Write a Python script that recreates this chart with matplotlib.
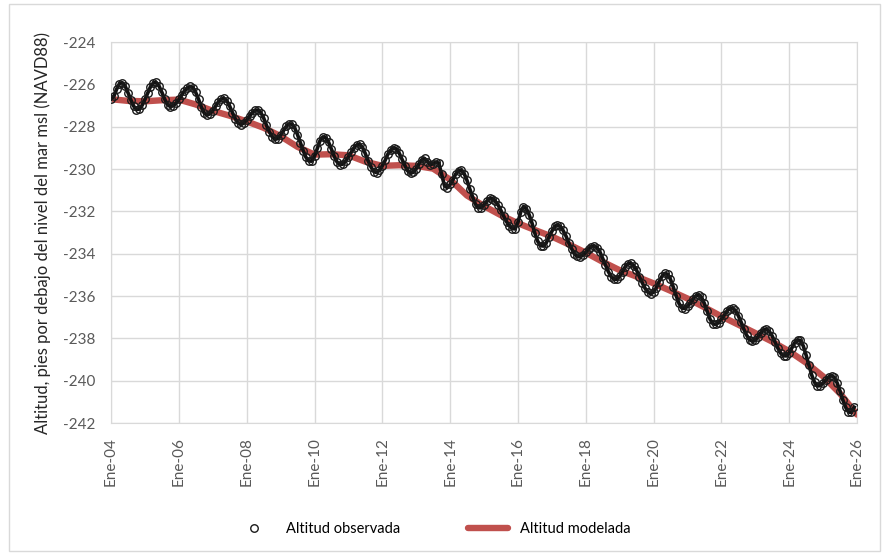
import matplotlib.pyplot as plt
import matplotlib.dates as mdates
from matplotlib.patches import Rectangle
import pandas as pd

obs_2004 = [-226.70, -226.56, -226.23, -225.96, -225.92, -226.08, -226.39, -226.73, -227.03, -227.19, -227.17, -226.99]
obs_2005 = [-226.71, -226.39, -226.11, -225.93, -225.91, -226.08, -226.37, -226.70, -226.96, -227.05, -227.01, -226.89]
obs_2006 = [-226.71, -226.50, -226.31, -226.18, -226.10, -226.15, -226.38, -226.71, -227.08, -227.36, -227.45, -227.39]
obs_2007 = [-227.24, -227.03, -226.83, -226.70, -226.66, -226.77, -227.02, -227.34, -227.63, -227.84, -227.90, -227.83]
obs_2008 = [-227.69, -227.51, -227.34, -227.22, -227.21, -227.33, -227.58, -227.93, -228.24, -228.47, -228.60, -228.56]
obs_2009 = [-228.40, -228.19, -227.99, -227.87, -227.87, -228.05, -228.37, -228.75, -229.13, -229.45, -229.62, -229.63]
obs_2010 = [-229.39, -229.02, -228.66, -228.48, -228.52, -228.73, -229.05, -229.40, -229.67, -229.79, -229.77, -229.64]
obs_2011 = [-229.42, -229.20, -229.00, -228.86, -228.84, -228.97, -229.26, -229.61, -229.90, -230.12, -230.17, -230.06]
obs_2012 = [-229.85, -229.59, -229.30, -229.10, -229.00, -229.05, -229.25, -229.54, -229.84, -230.09, -230.20, -230.15]
obs_2013 = [-229.98, -229.74, -229.56, -229.50, -229.65, -229.80, -229.75, -229.67, -229.72, -230.24, -230.79, -230.88]
obs_2014 = [-230.73, -230.50, -230.24, -230.07, -230.06, -230.22, -230.53, -230.95, -231.33, -231.67, -231.83, -231.83]
obs_2015 = [-231.69, -231.51, -231.39, -231.40, -231.51, -231.70, -231.95, -232.23, -232.49, -232.69, -232.81, -232.83]
obs_2016 = [-232.52, -232.02, -231.77, -231.87, -232.16, -232.56, -233.03, -233.41, -233.62, -233.64, -233.49, -233.21]
obs_2017 = [-232.94, -232.71, -232.64, -232.71, -232.90, -233.16, -233.48, -233.76, -234.01, -234.13, -234.15, -234.07]
obs_2018 = [-233.94, -233.78, -233.67, -233.63, -233.71, -233.90, -234.21, -234.53, -234.85, -235.08, -235.21, -235.21]
obs_2019 = [-235.07, -234.86, -234.62, -234.47, -234.45, -234.56, -234.77, -235.08, -235.37, -235.63, -235.82, -235.89]
obs_2020 = [-235.82, -235.60, -235.32, -235.07, -234.93, -234.97, -235.21, -235.58, -235.99, -236.35, -236.57, -236.59]
obs_2021 = [-236.49, -236.32, -236.14, -235.99, -235.94, -236.06, -236.35, -236.73, -237.10, -237.31, -237.34, -237.26]
obs_2022 = [-237.09, -236.90, -236.71, -236.60, -236.58, -236.68, -236.92, -237.23, -237.58, -237.86, -238.06, -238.14]
obs_2023 = [-238.08, -237.92, -237.73, -237.60, -237.57, -237.67, -237.88, -238.17, -238.46, -238.70, -238.82, -238.83]
obs_2024 = [-238.69, -238.44, -238.20, -238.07, -238.10, -238.36, -238.79, -239.27, -239.75, -240.08, -240.25, -240.23]
obs_2025 = [-240.11, -239.96, -239.82, -239.76, -239.84, -240.11, -240.48, -240.91, -241.26, -241.48, -241.50, -241.25]

observed = (obs_2004 + obs_2005 + obs_2006 + obs_2007 + obs_2008 + obs_2009 + obs_2010 + obs_2011
            + obs_2012 + obs_2013 + obs_2014 + obs_2015 + obs_2016 + obs_2017 + obs_2018 + obs_2019
            + obs_2020 + obs_2021 + obs_2022 + obs_2023 + obs_2024 + obs_2025)
obs_dates = pd.date_range("2004-01-01", periods=len(observed), freq="MS")

# modelled altitude, every half year
model_dates = pd.to_datetime([
    "2004-01-01", "2004-07-01", "2005-01-01", "2005-07-01", "2006-01-01", "2006-07-01",
    "2007-01-01", "2007-07-01", "2008-01-01", "2008-07-01", "2009-01-01", "2009-07-01",
    "2010-01-01", "2010-07-01", "2011-01-01", "2011-07-01", "2012-01-01", "2012-07-01",
    "2013-01-01", "2013-07-01", "2014-01-01", "2014-07-01", "2015-01-01", "2015-07-01",
    "2016-01-01", "2016-07-01", "2017-01-01", "2017-07-01", "2018-01-01", "2018-07-01",
    "2019-01-01", "2019-07-01", "2020-01-01", "2020-07-01", "2021-01-01", "2021-07-01",
    "2022-01-01", "2022-07-01", "2023-01-01", "2023-07-01", "2024-01-01", "2024-07-01",
    "2025-01-01", "2025-07-01", "2026-01-01"])
modeled = [-226.70, -226.78, -226.80, -226.75, -226.72, -226.95,
           -227.25, -227.48, -227.75, -228.05, -228.45, -228.95,
           -229.32, -229.30, -229.35, -229.65, -229.85, -229.82,
           -229.85, -229.98, -230.50, -231.25, -231.75, -232.18,
           -232.56, -232.88, -233.19, -233.56, -233.95, -234.38,
           -234.78, -235.08, -235.40, -235.75, -236.12, -236.53,
           -236.96, -237.35, -237.75, -238.15, -238.61, -239.15,
           -239.80, -240.60, -241.60]

plt.rcParams['font.family'] = ['Lato', 'DejaVu Sans']
plt.rcParams['axes.unicode_minus'] = False

fig = plt.figure(figsize=(8.82, 5.53), dpi=100)
ax = fig.add_axes([0.1259, 0.235, 0.8458, 0.689])

ax.plot(model_dates, modeled, color='#c0504d', lw=4.6, solid_capstyle='round',
        label='Altitud modelada', zorder=2)
ax.plot(obs_dates, observed, color='#111111', lw=2.6, zorder=3)
ax.plot(obs_dates, observed, ls='none', marker='o', ms=5.4, mfc='none',
        mec='#1a1a1a', mew=1.0, label='Altitud observada', zorder=4)

ax.set_ylim(-242, -224)
ax.set_yticks(range(-242, -223, 2))
ax.set_xlim(pd.Timestamp("2004-01-01"), pd.Timestamp("2026-01-01"))
ax.xaxis.set_major_locator(mdates.YearLocator(2))
ticks = ax.get_xticks()
ax.set_xticklabels(["Ene-%02d" % (mdates.num2date(t).year % 100) for t in ticks])

ax.grid(True, color='#d9d9d9', lw=1)
ax.set_axisbelow(True)
for s in ax.spines.values():
    s.set_color('#d9d9d9')
ax.tick_params(length=0, labelsize=11, labelcolor='#595959')
ax.tick_params(axis='x', rotation=90, pad=10)
ax.tick_params(axis='y', pad=11)
ax.set_ylabel('Altitud, pies por debajo del nivel del mar msl (NAVD88)',
              fontsize=12, color='#262626', labelpad=9)

h, l = ax.get_legend_handles_labels()
fig.legend([h[1], h[0]], [l[1], l[0]], loc='center', bbox_to_anchor=(0.49, 0.043),
           ncol=2, frameon=False, fontsize=10.5, columnspacing=4.6, handlelength=2.8)

fig.patches.append(Rectangle((0.0102, 0.003), 0.988, 0.99, transform=fig.transFigure,
                             fill=False, ec='#d9d9d9', lw=1))

fig.savefig('out.png', dpi=100)
